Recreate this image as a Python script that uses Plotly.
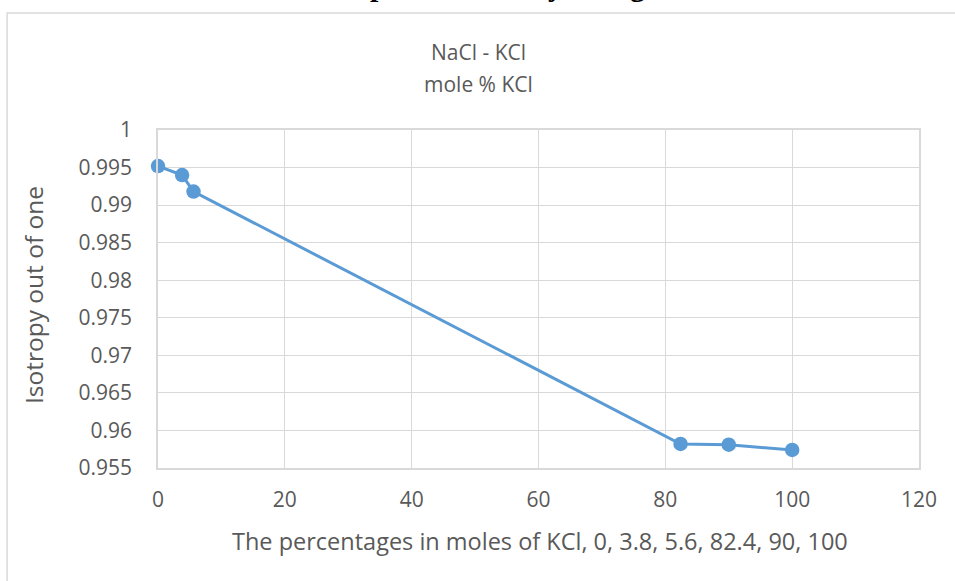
import plotly.graph_objects as go

# NaCl - KCl series: mole % KCl vs isotropy (out of one)
mole_pct_kcl = [0, 3.8, 5.6, 82.4, 90, 100]
isotropy = [0.9952, 0.9940, 0.9918, 0.9582, 0.9581, 0.9574]

y_tick_vals = [0.955, 0.96, 0.965, 0.97, 0.975, 0.98, 0.985, 0.99, 0.995, 1.0]
y_tick_text = ["0.955", "0.96", "0.965", "0.97", "0.975", "0.98", "0.985", "0.99", "0.995", "1"]
x_tick_vals = [0, 20, 40, 60, 80, 100, 120]

title_lines = ["NaCl - KCl", "mole % KCl"]
x_title = "The percentages in moles of KCl, 0, 3.8, 5.6, 82.4, 90, 100"
y_title = "Isotropy out of one"

W, H = 955, 581
L, R, T, B = 158, 35.5, 130, 113
PW, PH = W - L - R, H - T - B

def px(x):
    return (x - L) / PW

def py(y):
    return (H - B - y) / PH

FONT = "Open Sans"
GREY = "#595959"
GRID = "#d9d9d9"
BLUE = "#5b9bd5"

fig = go.Figure()
fig.add_trace(go.Scatter(
    x=mole_pct_kcl, y=isotropy, mode="lines+markers",
    line=dict(color=BLUE, width=3),
    marker=dict(color=BLUE, size=14.5),
    showlegend=False, cliponaxis=False,
))

axis_common = dict(
    showgrid=True, gridcolor=GRID, gridwidth=1,
    showline=True, linecolor=GRID, linewidth=1.5, mirror=True,
    zeroline=False, ticks="",
    tickfont=dict(family=FONT, size=21, color=GREY),
)
fig.update_xaxes(range=[0, 120], tickvals=x_tick_vals, ticklabelstandoff=12, **axis_common)
fig.update_yaxes(range=[0.955, 1.0], tickvals=y_tick_vals, ticktext=y_tick_text,
                 ticklabelstandoff=20, **axis_common)

annotations = []
for line, cy in zip(title_lines, [52, 84]):
    annotations.append(dict(
        text=line, x=px(479), y=py(cy), xref="paper", yref="paper",
        showarrow=False, xanchor="center", yanchor="middle",
        font=dict(family=FONT, size=21, color=GREY)))
annotations += [
    dict(text=x_title, x=px(540), y=py(541), xref="paper", yref="paper",
         showarrow=False, xanchor="center", yanchor="middle",
         font=dict(family=FONT, size=23.5, color=GREY)),
    dict(text=y_title, x=px(33), y=py(295), xref="paper", yref="paper",
         showarrow=False, xanchor="center", yanchor="middle", textangle=-90,
         font=dict(family=FONT, size=24.5, color=GREY)),
]
# heading line above the chart box, mostly cut off by the page edge
for ch, cx in [("p", 379), ("y", 556), ("g", 638)]:
    annotations.append(dict(
        text="<b>%s</b>" % ch, x=px(cx), y=py(-14.5), xref="paper", yref="paper",
        showarrow=False, xanchor="center", yanchor="middle",
        font=dict(family="Liberation Serif", size=30, color="#000000")))

fig.update_layout(
    width=W, height=H,
    margin=dict(l=L, r=R, t=T, b=B, pad=0),
    paper_bgcolor="white", plot_bgcolor="white",
    annotations=annotations,
    shapes=[dict(type="rect", xref="paper", yref="paper",
                 x0=px(7), x1=px(970), y0=py(600), y1=py(13),
                 line=dict(color=GRID, width=1.5), fillcolor="rgba(0,0,0,0)",
                 layer="below")],
)

fig.write_html("out.html")
